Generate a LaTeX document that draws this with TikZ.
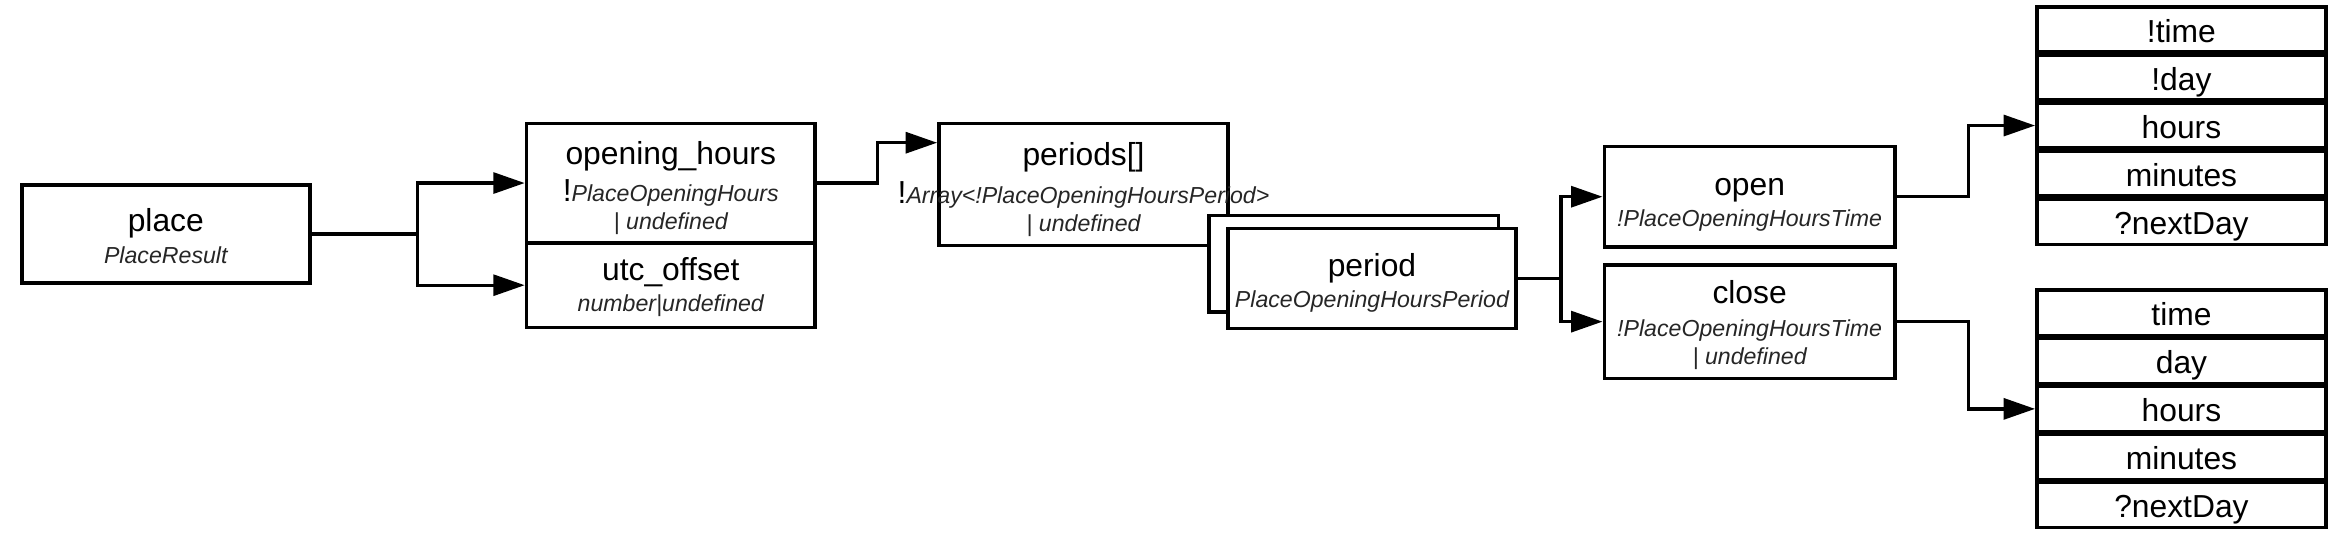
\documentclass[tikz,border=0pt]{standalone}
\usepackage{fontspec}
\setmainfont{Liberation Sans}
\usetikzlibrary{arrows.meta}

\newcommand{\subt}[1]{{\fontsize{15.5pt}{19pt}\selectfont\itshape\color{black!85}#1}}

\tikzset{every picture/.style={line width=2.4pt}}
\tikzset{
  box/.style={draw, fill=white, inner sep=0pt, align=center, text height=43pt, text depth=4pt, font=\fontsize{21.3pt}{21pt}\selectfont},
  cell/.style={box, minimum width=193.6pt, minimum height=30.3pt, text height=17pt, text depth=0pt},
  conn/.style={line width=2.2pt, -{Triangle[length=21pt,width=14pt]}}
}

\begin{document}
\begin{tikzpicture}[x=1pt,y=1pt,yscale=-1,xscale=1]
\useasboundingbox (0,0) rectangle (1568,363);

%Shape: Rectangle
\node[box, minimum width=192.9pt, minimum height=65.4pt] (place) at (111,156.6) {place\\\subt{PlaceResult}};
%Shape: Rectangle
\node[box, minimum width=193.2pt, minimum height=79.9pt, text height=66.7pt] (ohours) at (449.1,122.55) {opening\_hours\\[4pt]!\subt{PlaceOpeningHours}\\[-2pt]\subt{| undefined}};
%Shape: Rectangle
\node[box, minimum width=193.2pt, minimum height=56.9pt, text height=39.3pt] (utc) at (449.1,190.95) {utc\_offset\\\subt{number|undefined}};
%Shape: Rectangle
\node[box, minimum width=193.7pt, minimum height=81.9pt, text height=66.9pt] (periods) at (725.45,123.55) {periods[]\\[4pt]\makebox[0pt]{!\subt{Array<!PlaceOpeningHoursPeriod>}}\\[-2pt]\subt{| undefined}};
%Shape: Rectangle
\node[box, minimum width=193.6pt, minimum height=64.3pt] (periodback) at (906.4,176.55) {};
%Shape: Rectangle
\node[box, minimum width=193.1pt, minimum height=66.9pt] (period) at (918.55,186.35) {period\\\subt{PlaceOpeningHoursPeriod}};
%Shape: Rectangle
\node[box, minimum width=194.6pt, minimum height=67pt, text height=44pt] (open) at (1171.4,131.7) {open\\\subt{!PlaceOpeningHoursTime}};
%Shape: Rectangle
\node[box, minimum width=194.6pt, minimum height=75.9pt, text height=62pt] (close) at (1171.4,215.35) {close\\[1pt]\subt{!PlaceOpeningHoursTime}\\[-2pt]\subt{| undefined}};

%Shape: Rectangle
\foreach \lbl [count=\i] in {!time,!day,hours,minutes,?nextDay}
  \node[cell] (ta\i) at (1460.5,{19.65+32.2*(\i-1)}) {\lbl};
%Shape: Rectangle
\foreach \lbl [count=\i] in {time,day,hours,minutes,?nextDay}
  \node[cell] (tb\i) at (1460.5,{209.35+32.2*(\i-1)}) {\lbl};

%Straight Lines
\draw[conn] (place.east) -- ++(71,0) |- (ohours.west);
\draw[conn] (place.east) -- ++(71,0) |- (utc.west);
%Straight Lines
\draw[conn] (ohours.east) -- ++(40.5,0) |- ([yshift=-28pt]periods.west);
%Straight Lines
\draw[conn] (period.east) -- ++(28.8,0) |- (open.west);
\draw[conn] (period.east) -- ++(28.8,0) |- (close.west);
%Straight Lines
\draw[conn] (open.east) -- ++(47.9,0) |- (ta3.west);
\draw[conn] (close.east) -- ++(47.9,0) |- (tb3.west);

\end{tikzpicture}
\end{document}
